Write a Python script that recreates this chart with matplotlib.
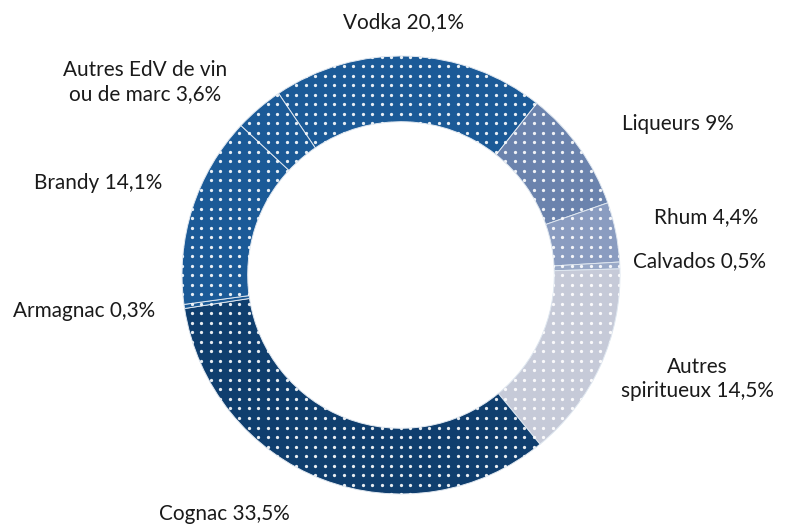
import matplotlib
matplotlib.use("Agg")
import numpy as np
import matplotlib.pyplot as plt
from matplotlib.patches import Wedge

plt.rcParams['font.family'] = ['Lato', 'DejaVu Sans']

# Répartition (%) dans le sens horaire, à partir de Vodka
categories = ["Vodka", "Liqueurs", "Rhum", "Calvados", "Autres\nspiritueux",
              "Cognac", "Armagnac", "Brandy", "Autres EdV de vin\nou de marc"]
parts = [20.1, 9, 4.4, 0.5, 14.5, 33.5, 0.3, 14.1, 3.6]
etiquettes = ["Vodka 20,1%", "Liqueurs 9%", "Rhum 4,4%", "Calvados 0,5%",
              "Autres\nspiritueux 14,5%", "Cognac 33,5%", "Armagnac 0,3%",
              "Brandy 14,1%", "Autres EdV de vin\nou de marc 3,6%"]

couleurs = ["#1b5a97", "#6b83ad", "#8a9cc0", "#9aaac8", "#c6cad8",
            "#0f3e6e", "#1b5a97", "#1b5a97", "#1b5a97"]

# position des étiquettes (unités du rayon)
pos_etiq = [(0.01, 1.155), (1.265, 0.689), (1.393, 0.265), (1.365, 0.064),
            (1.352, -0.475), (-0.808, -1.091), (-1.447, -0.164),
            (-1.384, 0.420), (-1.169, 0.881)]

fig = plt.figure(figsize=(7.0, 527 / 115), dpi=115)
ax = fig.add_axes([0, 0, 1, 1])

wedges, _ = ax.pie(parts, colors=couleurs, startangle=124, counterclock=False,
                   radius=1.0, wedgeprops=dict(width=0.30, edgecolor='#dfe7f0',
                                               linewidth=0.6))

# trame de points blancs sur l'anneau
pas = 9.5 / 219
g = np.arange(-1.0, 1.0 + pas, pas)
gx, gy = np.meshgrid(g, g)
anneau = Wedge((0, 0), 1.0, 0, 360, width=0.30, transform=ax.transData)
pts = ax.scatter(gx.ravel(), gy.ravel(), s=4.2, color='white', alpha=0.9,
                 linewidths=0, zorder=3)
pts.set_clip_path(anneau)

for txt, (x, y) in zip(etiquettes, pos_etiq):
    ax.text(x, y, txt, ha='center', va='center', fontsize=13,
            color='#1a1a1a', linespacing=1.25)

ax.set_xlim(-401 / 219, (805 - 401) / 219)
ax.set_ylim((275 - 527) / 219, 275 / 219)
ax.axis('off')

fig.savefig("out.png", dpi=115)
